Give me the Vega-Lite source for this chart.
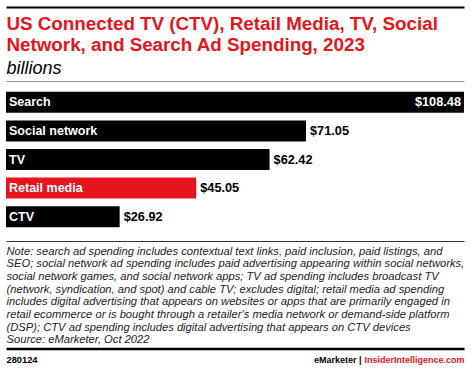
{
  "$schema": "https://vega.github.io/schema/vega-lite/v6.json",
  "width": 458,
  "height": 143,
  "autosize": {"type": "none"},
  "padding": {"left": 6, "top": 88, "right": 7, "bottom": 138},
  "background": "#ffffff",
  "data": {
    "values": [
      {"cat": "Search", "value": 108.48},
      {"cat": "Social network", "value": 71.05},
      {"cat": "TV", "value": 62.42},
      {"cat": "Retail media", "value": 45.05},
      {"cat": "CTV", "value": 26.92}
    ]
  },
  "config": {
    "view": {"stroke": null},
    "axis": {"grid": false, "ticks": false, "labels": false, "domain": false, "titlePadding": 0},
    "text": {"font": "Liberation Sans"}
  },
  "resolve": {"axis": {"x": "independent", "y": "independent"}},
  "layer": [
    {
      "mark": {"type": "bar"},
      "encoding": {
        "y": {
          "field": "cat", "type": "nominal",
          "scale": {"domain": ["Search", "Social network", "TV", "Retail media", "CTV"], "paddingInner": 0.266, "paddingOuter": 0.133},
          "axis": {"orient": "left", "title": "280124", "titleAngle": 0, "titleX": 0, "titleY": 274, "titleAlign": "left", "titleBaseline": "alphabetic", "titleFont": "Liberation Sans", "titleFontSize": 9.3, "titleFontWeight": "bold", "titleColor": "#000000"}
        },
        "x": {
          "field": "value", "type": "quantitative",
          "scale": {"domain": [0, 108.48], "nice": false, "zero": true},
          "axis": {
            "orient": "bottom", "offset": 10, "domain": true, "domainColor": "#333333", "domainWidth": 1,
            "title": [
              "Note: search ad spending includes contextual text links, paid inclusion, paid listings, and",
              "SEO; social network ad spending includes paid advertising appearing within social networks,",
              "social network games, and social network apps; TV ad spending includes broadcast TV",
              "(network, syndication, and spot) and cable TV; excludes digital; retail media ad spending",
              "includes digital advertising that appears on websites or apps that are primarily engaged in",
              "retail ecommerce or is bought through a retailer's media network or demand-side platform",
              "(DSP); CTV ad spending includes digital advertising that appears on CTV devices",
              "Source: eMarketer, Oct 2022"
            ],
            "titleX": 0, "titleY": 13, "titleAlign": "left", "titleBaseline": "alphabetic", "titleLineHeight": 12.7,
            "titleFont": "Liberation Sans", "titleFontSize": 11.2, "titleFontStyle": "italic", "titleFontWeight": "normal", "titleColor": "#222222"
          }
        },
        "color": {
          "condition": {"test": "datum.cat === 'Retail media'", "value": "#e5141d"},
          "value": "#000000"
        }
      }
    },
    {
      "mark": {"type": "text", "align": "left", "baseline": "middle", "dx": 3, "fontSize": 12.5, "fontWeight": "bold", "color": "#ffffff"},
      "encoding": {
        "y": {
          "field": "cat", "type": "nominal",
          "axis": {"orient": "right", "title": "InsiderIntelligence.com", "titleAngle": 0, "titleX": 0, "titleY": 274, "titleAlign": "right", "titleBaseline": "alphabetic", "titleFont": "Liberation Sans", "titleFontSize": 9, "titleFontWeight": "bold", "titleColor": "#e5141d"}
        },
        "x": {
          "datum": 0, "type": "quantitative",
          "axis": {"orient": "top", "offset": 7, "domain": true, "domainColor": "#999999", "domainWidth": 1,
            "title": "billions", "titleX": 0, "titleY": -8, "titleAlign": "left", "titleBaseline": "alphabetic",
            "titleFont": "Liberation Sans", "titleFontSize": 18, "titleFontStyle": "italic", "titleFontWeight": "normal", "titleColor": "#000000"}
        },
        "text": {"field": "cat", "type": "nominal"}
      }
    },
    {
      "transform": [{"filter": "datum.cat === 'Search'"}],
      "mark": {"type": "text", "align": "right", "baseline": "middle", "dx": -3, "fontSize": 12.75, "fontWeight": "bold", "color": "#ffffff"},
      "encoding": {
        "y": {
          "field": "cat", "type": "nominal",
          "axis": {"orient": "right", "title": "eMarketer  |", "titleAngle": 0, "titleX": -103, "titleY": 274, "titleAlign": "right", "titleBaseline": "alphabetic", "titleFont": "Liberation Sans", "titleFontSize": 9, "titleFontWeight": "bold", "titleColor": "#000000"}
        },
        "x": {
          "field": "value", "type": "quantitative",
          "axis": {"orient": "top", "offset": 81, "domain": true, "domainColor": "#000000", "domainWidth": 2, "domainCap": "butt",
            "title": ["US Connected TV (CTV), Retail Media, TV, Social", "Network, and Search Ad Spending, 2023"],
            "titleX": 0, "titleY": 22, "titleAlign": "left", "titleBaseline": "alphabetic", "titleLineHeight": 21,
            "titleFont": "Liberation Sans", "titleFontSize": 18.8, "titleFontWeight": "bold", "titleColor": "#e5141d"}
        },
        "text": {"field": "value", "type": "quantitative", "format": "$.2f"}
      }
    },
    {
      "transform": [{"filter": "datum.cat !== 'Search'"}],
      "mark": {"type": "text", "align": "left", "baseline": "middle", "dx": 4, "fontSize": 12.75, "fontWeight": "bold", "color": "#000000"},
      "encoding": {
        "y": {"field": "cat", "type": "nominal", "axis": null},
        "x": {
          "field": "value", "type": "quantitative",
          "axis": {"orient": "bottom", "offset": 117.5, "domain": true, "domainColor": "#000000", "domainWidth": 2.5, "domainCap": "butt", "title": null}
        },
        "text": {"field": "value", "type": "quantitative", "format": "$.2f"}
      }
    }
  ]
}
